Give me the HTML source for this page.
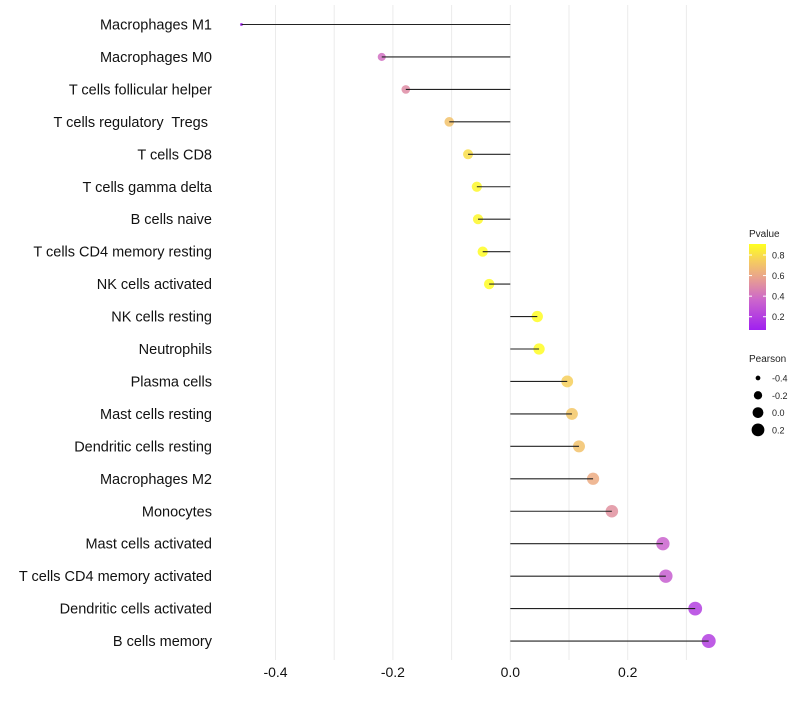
<!DOCTYPE html>
<html><head><meta charset="utf-8"><style>
body{margin:0;background:#fff;font-family:"Liberation Sans",Arial,sans-serif}
svg text{font-family:"Liberation Sans",Arial,sans-serif;white-space:pre}
</style></head><body>
<svg id="c" width="800" height="700">
<defs><linearGradient id="pg" x1="0" y1="1" x2="0" y2="0">
<stop offset="0" stop-color="#a020f0"/><stop offset="0.35" stop-color="#cc66cc"/><stop offset="0.6" stop-color="#e8a090"/><stop offset="0.8" stop-color="#f5cc60"/><stop offset="1" stop-color="#ffff20"/></linearGradient></defs>
</svg>
<script>
const categories=["Macrophages M1","Macrophages M0","T cells follicular helper","T cells regulatory  Tregs ","T cells CD8","T cells gamma delta","B cells naive","T cells CD4 memory resting","NK cells activated","NK cells resting","Neutrophils","Plasma cells","Mast cells resting","Dendritic cells resting","Macrophages M2","Monocytes","Mast cells activated","T cells CD4 memory activated","Dendritic cells activated","B cells memory"];
const pearson=[-0.458,-0.219,-0.178,-0.104,-0.072,-0.057,-0.055,-0.047,-0.036,0.046,0.049,0.097,0.105,0.117,0.141,0.173,0.26,0.265,0.315,0.338];
const pvalues=[0.07,0.4,0.5,0.7,0.8,0.88,0.88,0.9,0.9,0.9,0.9,0.75,0.72,0.7,0.62,0.52,0.35,0.33,0.2,0.2];
const xTicks=[-0.4,-0.2,0,0.2];
const xMinor=[-0.3,-0.1,0.1,0.3];
const pTicks=[0.8,0.6,0.4,0.2];
const sizeTicks=[-0.4,-0.2,0.0,0.2];
const svg=document.getElementById('c');const NS="http://www.w3.org/2000/svg";
function mk(t,a,p){const e=document.createElementNS(NS,t);for(const k in a)e.setAttribute(k,a[k]);(p||svg).appendChild(e);return e;}
const X=v=>510.3+v*587, Y=i=>24.5+i*32.45;
const R=v=>Math.sqrt(2.25+(v+0.458)/0.796*46.75);
const stops=[[0,[160,32,240]],[0.35,[204,102,204]],[0.6,[232,160,144]],[0.8,[245,204,96]],[1,[255,255,32]]];
function col(p){let t=(p-0.071)/(0.907-0.071);t=Math.max(0,Math.min(1,t));for(let i=1;i<stops.length;i++){if(t<=stops[i][0]){const a=stops[i-1],b=stops[i],f=(t-a[0])/(b[0]-a[0]);return 'rgb('+a[1].map((c,j)=>Math.round(c+(b[1][j]-c)*f)).join(',')+')';}}return 'rgb(255,255,32)';}
xTicks.concat(xMinor).forEach(v=>{const l=mk('line',{x1:X(v),x2:X(v),y1:5,y2:660,stroke:'#ebebeb','stroke-width':1});

});
xTicks.forEach(v=>{const t=mk('text',{x:X(v),y:677,'text-anchor':'middle','font-size':14,fill:'#111'});t.textContent=v===0?'0.0':v.toFixed(1);

});
categories.forEach((c,i)=>{const y=Y(i);
const t=mk('text',{x:212,y:y+5,'text-anchor':'end','font-size':14.5,fill:'#111'});t.textContent=c;


const d=mk('circle',{cx:X(pearson[i]),cy:y,r:R(pearson[i]),fill:col(pvalues[i]),'fill-opacity':0.85});


const l=mk('line',{x1:X(0),x2:X(pearson[i]),y1:y,y2:y,stroke:'#222','stroke-width':1.1});

});
const lg=mk('g',{});
let tt=mk('text',{x:749,y:237,'font-size':10,fill:'#222'},lg);tt.textContent='Pvalue';
mk('rect',{x:749,y:244,width:17,height:86,fill:'url(#pg)'},lg);
pTicks.forEach(p=>{const y=244+(0.907-p)/(0.907-0.071)*86;mk('line',{x1:749,x2:752,y1:y,y2:y,stroke:'#fff'},lg);mk('line',{x1:763,x2:766,y1:y,y2:y,stroke:'#fff'},lg);
const t=mk('text',{x:772,y:y+3.5,'font-size':9,fill:'#222'},lg);t.textContent=p.toFixed(1);});
const sg=mk('g',{});
tt=mk('text',{x:749,y:362,'font-size':10,fill:'#222'},sg);tt.textContent='Pearson';
sizeTicks.forEach((v,i)=>{const y=378+i*17.3;mk('circle',{cx:758,cy:y,r:R(v),fill:'#000'},sg);
const t=mk('text',{x:772,y:y+3.5,'font-size':9,fill:'#222'},sg);t.textContent=v.toFixed(1);});
</script>
</body></html>
